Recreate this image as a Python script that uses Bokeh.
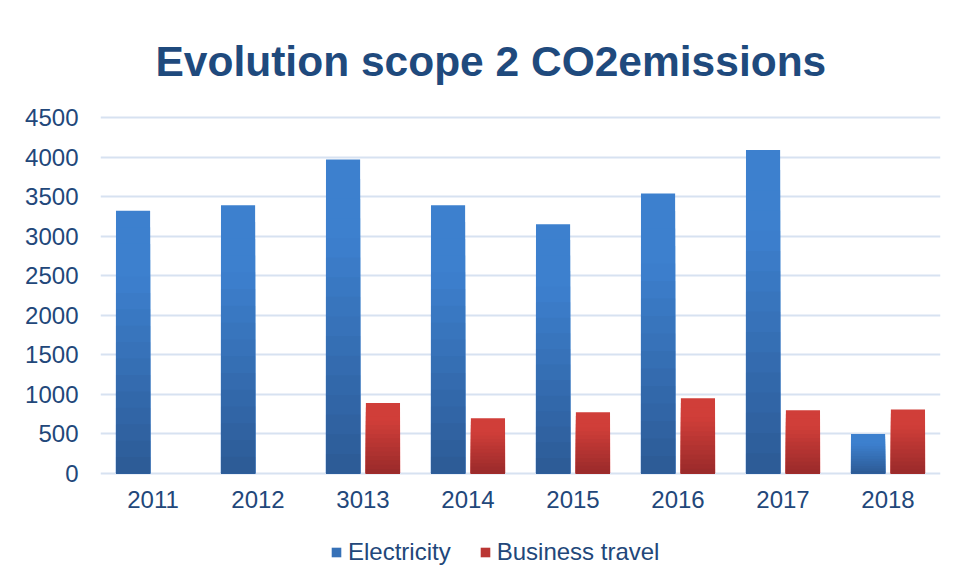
from bokeh.plotting import figure
from bokeh.layouts import column
from bokeh.models import FactorRange, Range1d, Legend, LegendItem, ColumnDataSource
from bokeh.transform import dodge
from bokeh.embed import file_html
from bokeh.resources import INLINE

years = ["2011", "2012", "3013", "2014", "2015", "2016", "2017", "2018"]
electricity = [3320, 3390, 3970, 3390, 3150, 3540, 4090, 500]
business_travel = [float("nan"), float("nan"), 890, 700, 775, 950, 800, 810]
y_ticks = [0, 500, 1000, 1500, 2000, 2500, 3000, 3500, 4000, 4500]
series_names = ["Electricity", "Business travel"]

TEXT = "#22477A"
FONT = "Liberation Sans"

p = figure(frame_width=840, frame_height=362, x_range=FactorRange(*years),
           y_range=Range1d(-25, 4550), output_backend="svg",
           toolbar_location=None, tools="",
           min_border_left=100, min_border_right=7,
           min_border_top=113, min_border_bottom=45)

p.title.text = "Evolution scope 2 CO2emissions"
p.title.align = "left"
p.title.offset = 55
p.title.text_font = FONT
p.title.text_font_size = "42.5px"
p.title.text_font_style = "bold"
p.title.text_color = "#1F4A7D"
p.title.standoff = 57

p.outline_line_color = None
p.background_fill_color = "white"
p.border_fill_color = "white"

p.xgrid.grid_line_color = None
p.ygrid.grid_line_color = "#D7E2F1"
p.ygrid.grid_line_width = 2
p.yaxis.ticker = y_ticks

for ax in (p.xaxis[0], p.yaxis[0]):
    ax.axis_line_color = None
    ax.major_tick_line_color = None
    ax.minor_tick_line_color = None
    ax.major_label_text_font = FONT
    ax.major_label_text_font_size = "24px"
    ax.major_label_text_color = TEXT
p.yaxis.major_label_standoff = 16
p.xaxis.major_label_standoff = 9


def lerp(c1, c2, t):
    a = [int(c1[i:i + 2], 16) for i in (1, 3, 5)]
    b = [int(c2[i:i + 2], 16) for i in (1, 3, 5)]
    return "#%02x%02x%02x" % tuple(round(a[j] + (b[j] - a[j]) * t) for j in range(3))


N = 16
series = [
    (electricity, -0.19, "#2C5A95", "#3D80CE"),
    (business_travel, 0.19, "#992A2A", "#D03E39"),
]
for vals, off, bottom_c, top_c in series:
    for k in range(N):
        frac = 1 - k / N
        center = frac - 0.5 / N
        t = min(1.0, center / 0.75)
        col = lerp(bottom_c, top_c, t)
        src = ColumnDataSource(dict(year=years, top=[v * frac for v in vals]))
        p.vbar(x=dodge("year", off, range=p.x_range), top="top", bottom=0,
               width=0.325, source=src, fill_color=col, line_color=None)

# legend strip below the chart (frames are aligned by the column layout)
p2 = figure(width=947, height=56, x_range=Range1d(0, 1), y_range=Range1d(0, 1),
            output_backend="svg", toolbar_location=None, tools="",
            x_axis_location=None, y_axis_location=None,
            min_border=0)
p2.outline_line_color = None
p2.xgrid.grid_line_color = None
p2.ygrid.grid_line_color = None
items = []
for name, (vals, off, bottom_c, top_c) in zip(series_names, series):
    r = p2.vbar(x=[float("nan")], top=[float("nan")], width=0.3,
                fill_color=lerp(bottom_c, top_c, 0.6), line_color=None)
    items.append(LegendItem(label=name, renderers=[r]))
legend = Legend(items=items, orientation="horizontal", location=(230, 10),
                label_text_font=FONT, label_text_font_size="24px",
                label_text_color=TEXT, glyph_width=12, glyph_height=12,
                spacing=28, label_standoff=6, border_line_color=None,
                background_fill_alpha=0, margin=0, padding=0)
p2.add_layout(legend, "center")

layout = column(p, p2, spacing=0)
open("out.html", "w").write(file_html(layout, INLINE))
